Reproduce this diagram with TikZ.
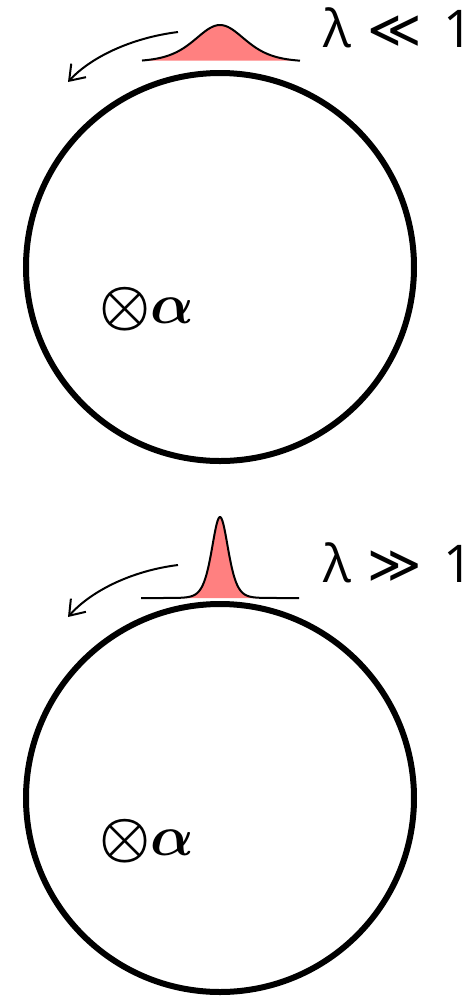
\documentclass[tikz,border=0pt]{standalone}
\usepackage{fontspec}
\usetikzlibrary{arrows.meta}
\newfontfamily\labfont{Open Sans}
\newfontfamily\symfont{DejaVu Sans}
\definecolor{bump}{HTML}{FF8080}
\newcommand{\fluxlabel}{\scalebox{1.15}{$\otimes\alpha$}}
\tikzset{
  ring/.style={draw=black, line width=3pt, circle, inner sep=0pt, minimum size=194pt},
  bumpline/.style={draw=black, line width=1pt},
  motion/.style={draw=black, line width=1pt, -{Straight Barb[length=7pt,width=10pt]}},
  lamlabel/.style={anchor=base west, inner sep=0pt, font=\fontsize{26}{30}\selectfont},
  axislabel/.style={anchor=base west, inner sep=0pt, font=\fontsize{24.88}{30}\selectfont\mathversion{bold}}
}
\begin{document}
\begin{tikzpicture}[x=0.5pt, y=-0.5pt]
\useasboundingbox (0,0) rectangle (474,998);
% top panel
\node[ring] (c1) at (220,267) {};
\fill[bump] plot[domain=142:300, samples=160, smooth] (\x, {62 - 37*pow(1/cosh((\x-220)/34),2)}) -- cycle;
\draw[bumpline] plot[domain=142:300, samples=160, smooth] (\x, {62 - 37*pow(1/cosh((\x-220)/34),2)});
\coordinate (a1s) at (178,32);
\coordinate (a1e) at (68,82);
\draw[motion] (a1s) .. controls (130,38) and (90,58) .. (a1e);
\node[lamlabel] (l1) at (323,47) {\labfont λ\hspace{8pt}\symfont≪\hspace{11pt}\labfont 1};
\node[axislabel] (x1) at (99,323) {\fluxlabel};
% bottom panel
\node[ring] (c2) at (220,798) {};
\fill[bump] plot[domain=141:299, samples=300, smooth] (\x, {598 - 81*pow(1/cosh((\x-220)/11),2)}) -- cycle;
\draw[bumpline] plot[domain=141:299, samples=300, smooth] (\x, {598 - 81*pow(1/cosh((\x-220)/11),2)});
\coordinate (a2s) at (178,565);
\coordinate (a2e) at (68,617);
\draw[motion] (a2s) .. controls (130,571) and (90,592) .. (a2e);
\node[lamlabel] (l2) at (323,582) {\labfont λ\hspace{8pt}\symfont≫\hspace{11pt}\labfont 1};
\node[axislabel] (x2) at (99,855) {\fluxlabel};
\end{tikzpicture}
\end{document}
